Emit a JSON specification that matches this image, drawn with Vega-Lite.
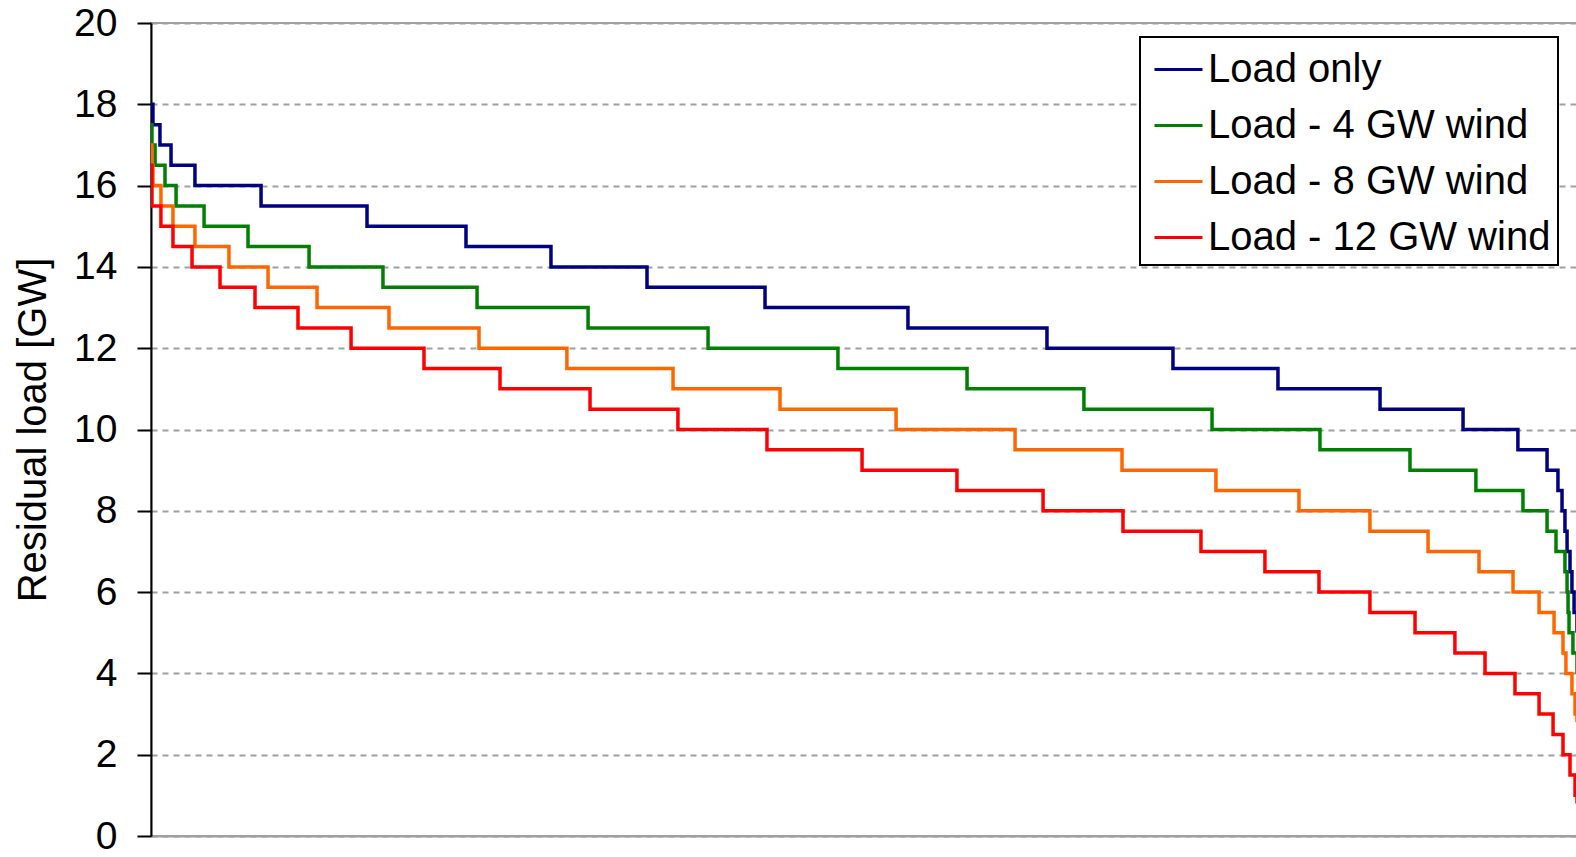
{
  "$schema": "https://vega.github.io/schema/vega-lite/v6.json",
  "autosize": "none",
  "padding": {"left": 151, "top": 23, "right": 0, "bottom": 21},
  "width": 1426,
  "height": 813,
  "background": "white",
  "config": {
    "font": "Liberation Sans",
    "view": {"stroke": "#a0a0a0", "strokeWidth": 2}
  },
  "data": {
    "values": [
      {"series": "Load only", "hour": 0, "load": 18},
      {"series": "Load only", "hour": 12, "load": 17.5},
      {"series": "Load only", "hour": 55, "load": 17},
      {"series": "Load only", "hour": 123, "load": 16.5},
      {"series": "Load only", "hour": 270, "load": 16},
      {"series": "Load only", "hour": 676, "load": 15.5},
      {"series": "Load only", "hour": 1327, "load": 15},
      {"series": "Load only", "hour": 1935, "load": 14.5},
      {"series": "Load only", "hour": 2457, "load": 14},
      {"series": "Load only", "hour": 3047, "load": 13.5},
      {"series": "Load only", "hour": 3772, "load": 13},
      {"series": "Load only", "hour": 4650, "load": 12.5},
      {"series": "Load only", "hour": 5504, "load": 12},
      {"series": "Load only", "hour": 6278, "load": 11.5},
      {"series": "Load only", "hour": 6923, "load": 11},
      {"series": "Load only", "hour": 7550, "load": 10.5},
      {"series": "Load only", "hour": 8060, "load": 10},
      {"series": "Load only", "hour": 8397, "load": 9.5},
      {"series": "Load only", "hour": 8576, "load": 9},
      {"series": "Load only", "hour": 8643, "load": 8.5},
      {"series": "Load only", "hour": 8668, "load": 8},
      {"series": "Load only", "hour": 8686, "load": 7.5},
      {"series": "Load only", "hour": 8699, "load": 7},
      {"series": "Load only", "hour": 8717, "load": 6.5},
      {"series": "Load only", "hour": 8729, "load": 6},
      {"series": "Load only", "hour": 8742, "load": 5.5},
      {"series": "Load only", "hour": 8760, "load": 5},

      {"series": "Load - 4 GW wind", "hour": 0, "load": 17.5},
      {"series": "Load - 4 GW wind", "hour": 6, "load": 17},
      {"series": "Load - 4 GW wind", "hour": 25, "load": 16.5},
      {"series": "Load - 4 GW wind", "hour": 86, "load": 16},
      {"series": "Load - 4 GW wind", "hour": 154, "load": 15.5},
      {"series": "Load - 4 GW wind", "hour": 326, "load": 15},
      {"series": "Load - 4 GW wind", "hour": 596, "load": 14.5},
      {"series": "Load - 4 GW wind", "hour": 971, "load": 14},
      {"series": "Load - 4 GW wind", "hour": 1425, "load": 13.5},
      {"series": "Load - 4 GW wind", "hour": 2003, "load": 13},
      {"series": "Load - 4 GW wind", "hour": 2685, "load": 12.5},
      {"series": "Load - 4 GW wind", "hour": 3422, "load": 12},
      {"series": "Load - 4 GW wind", "hour": 4220, "load": 11.5},
      {"series": "Load - 4 GW wind", "hour": 5013, "load": 11},
      {"series": "Load - 4 GW wind", "hour": 5731, "load": 10.5},
      {"series": "Load - 4 GW wind", "hour": 6518, "load": 10},
      {"series": "Load - 4 GW wind", "hour": 7181, "load": 9.5},
      {"series": "Load - 4 GW wind", "hour": 7734, "load": 9},
      {"series": "Load - 4 GW wind", "hour": 8139, "load": 8.5},
      {"series": "Load - 4 GW wind", "hour": 8428, "load": 8},
      {"series": "Load - 4 GW wind", "hour": 8576, "load": 7.5},
      {"series": "Load - 4 GW wind", "hour": 8631, "load": 7},
      {"series": "Load - 4 GW wind", "hour": 8686, "load": 6.5},
      {"series": "Load - 4 GW wind", "hour": 8699, "load": 6},
      {"series": "Load - 4 GW wind", "hour": 8705, "load": 5.5},
      {"series": "Load - 4 GW wind", "hour": 8711, "load": 5},
      {"series": "Load - 4 GW wind", "hour": 8735, "load": 4.5},
      {"series": "Load - 4 GW wind", "hour": 8760, "load": 4},

      {"series": "Load - 8 GW wind", "hour": 0, "load": 17},
      {"series": "Load - 8 GW wind", "hour": 6, "load": 16.5},
      {"series": "Load - 8 GW wind", "hour": 12, "load": 16},
      {"series": "Load - 8 GW wind", "hour": 61, "load": 15.5},
      {"series": "Load - 8 GW wind", "hour": 135, "load": 15},
      {"series": "Load - 8 GW wind", "hour": 270, "load": 14.5},
      {"series": "Load - 8 GW wind", "hour": 479, "load": 14},
      {"series": "Load - 8 GW wind", "hour": 719, "load": 13.5},
      {"series": "Load - 8 GW wind", "hour": 1020, "load": 13},
      {"series": "Load - 8 GW wind", "hour": 1462, "load": 12.5},
      {"series": "Load - 8 GW wind", "hour": 2015, "load": 12},
      {"series": "Load - 8 GW wind", "hour": 2555, "load": 11.5},
      {"series": "Load - 8 GW wind", "hour": 3207, "load": 11},
      {"series": "Load - 8 GW wind", "hour": 3864, "load": 10.5},
      {"series": "Load - 8 GW wind", "hour": 4577, "load": 10},
      {"series": "Load - 8 GW wind", "hour": 5308, "load": 9.5},
      {"series": "Load - 8 GW wind", "hour": 5965, "load": 9},
      {"series": "Load - 8 GW wind", "hour": 6542, "load": 8.5},
      {"series": "Load - 8 GW wind", "hour": 7052, "load": 8},
      {"series": "Load - 8 GW wind", "hour": 7488, "load": 7.5},
      {"series": "Load - 8 GW wind", "hour": 7845, "load": 7},
      {"series": "Load - 8 GW wind", "hour": 8158, "load": 6.5},
      {"series": "Load - 8 GW wind", "hour": 8367, "load": 6},
      {"series": "Load - 8 GW wind", "hour": 8527, "load": 5.5},
      {"series": "Load - 8 GW wind", "hour": 8619, "load": 5},
      {"series": "Load - 8 GW wind", "hour": 8674, "load": 4.5},
      {"series": "Load - 8 GW wind", "hour": 8692, "load": 4},
      {"series": "Load - 8 GW wind", "hour": 8729, "load": 3.5},
      {"series": "Load - 8 GW wind", "hour": 8748, "load": 3},
      {"series": "Load - 8 GW wind", "hour": 8760, "load": 2.8},

      {"series": "Load - 12 GW wind", "hour": 0, "load": 16.5},
      {"series": "Load - 12 GW wind", "hour": 6, "load": 15.5},
      {"series": "Load - 12 GW wind", "hour": 61, "load": 15},
      {"series": "Load - 12 GW wind", "hour": 135, "load": 14.5},
      {"series": "Load - 12 GW wind", "hour": 252, "load": 14},
      {"series": "Load - 12 GW wind", "hour": 424, "load": 13.5},
      {"series": "Load - 12 GW wind", "hour": 639, "load": 13},
      {"series": "Load - 12 GW wind", "hour": 903, "load": 12.5},
      {"series": "Load - 12 GW wind", "hour": 1229, "load": 12},
      {"series": "Load - 12 GW wind", "hour": 1677, "load": 11.5},
      {"series": "Load - 12 GW wind", "hour": 2144, "load": 11},
      {"series": "Load - 12 GW wind", "hour": 2697, "load": 10.5},
      {"series": "Load - 12 GW wind", "hour": 3237, "load": 10},
      {"series": "Load - 12 GW wind", "hour": 3784, "load": 9.5},
      {"series": "Load - 12 GW wind", "hour": 4368, "load": 9},
      {"series": "Load - 12 GW wind", "hour": 4951, "load": 8.5},
      {"series": "Load - 12 GW wind", "hour": 5480, "load": 8},
      {"series": "Load - 12 GW wind", "hour": 5971, "load": 7.5},
      {"series": "Load - 12 GW wind", "hour": 6450, "load": 7},
      {"series": "Load - 12 GW wind", "hour": 6843, "load": 6.5},
      {"series": "Load - 12 GW wind", "hour": 7175, "load": 6},
      {"series": "Load - 12 GW wind", "hour": 7488, "load": 5.5},
      {"series": "Load - 12 GW wind", "hour": 7765, "load": 5},
      {"series": "Load - 12 GW wind", "hour": 8010, "load": 4.5},
      {"series": "Load - 12 GW wind", "hour": 8195, "load": 4},
      {"series": "Load - 12 GW wind", "hour": 8379, "load": 3.5},
      {"series": "Load - 12 GW wind", "hour": 8527, "load": 3},
      {"series": "Load - 12 GW wind", "hour": 8613, "load": 2.5},
      {"series": "Load - 12 GW wind", "hour": 8674, "load": 2},
      {"series": "Load - 12 GW wind", "hour": 8717, "load": 1.5},
      {"series": "Load - 12 GW wind", "hour": 8748, "load": 1},
      {"series": "Load - 12 GW wind", "hour": 8760, "load": 0.8}
    ]
  },
  "mark": {"type": "line", "interpolate": "step-after", "strokeWidth": 3.5, "clip": true},
  "encoding": {
    "x": {
      "field": "hour",
      "type": "quantitative",
      "scale": {"domain": [0, 8760], "nice": false, "zero": false},
      "axis": {
        "title": null,
        "labels": false,
        "ticks": false,
        "grid": false,
        "domainColor": "#a0a0a0",
        "domainWidth": 2
      }
    },
    "y": {
      "field": "load",
      "type": "quantitative",
      "scale": {"domain": [0, 20], "nice": false},
      "axis": {
        "title": "Residual load [GW]",
        "titleFont": "Liberation Sans",
        "titleFontSize": 40,
        "titleFontWeight": "normal",
        "titleColor": "black",
        "titlePadding": 20,
        "values": [0, 2, 4, 6, 8, 10, 12, 14, 16, 18, 20],
        "labelFont": "Liberation Sans",
        "labelFontSize": 39,
        "labelColor": "black",
        "labelPadding": 20,
        "tickSize": 14,
        "tickColor": "black",
        "tickWidth": 2,
        "domainColor": "black",
        "domainWidth": 2,
        "grid": true,
        "gridColor": "#a0a0a0",
        "gridDash": [6, 5],
        "gridWidth": 2
      }
    },
    "color": {
      "field": "series",
      "type": "nominal",
      "sort": ["Load only", "Load - 4 GW wind", "Load - 8 GW wind", "Load - 12 GW wind"],
      "scale": {
        "domain": ["Load only", "Load - 4 GW wind", "Load - 8 GW wind", "Load - 12 GW wind"],
        "range": ["#000080", "#008000", "#FF6600", "#FF0000"]
      },
      "legend": {
        "title": null,
        "orient": "none",
        "legendX": 989,
        "legendY": 14,
        "fillColor": "white",
        "strokeColor": "black",
        "cornerRadius": 0,
        "padding": 7,
        "symbolType": "stroke",
        "symbolSize": 2304,
        "symbolStrokeWidth": 3,
        "symbolOffset": 6,
        "labelFont": "Liberation Sans",
        "labelFontSize": 40,
        "labelColor": "black",
        "labelOffset": 4,
        "rowPadding": 10,
        "labelLimit": 500,
        "encode": {"legend": {"update": {"strokeWidth": {"value": 2}}}}
      }
    }
  }
}
